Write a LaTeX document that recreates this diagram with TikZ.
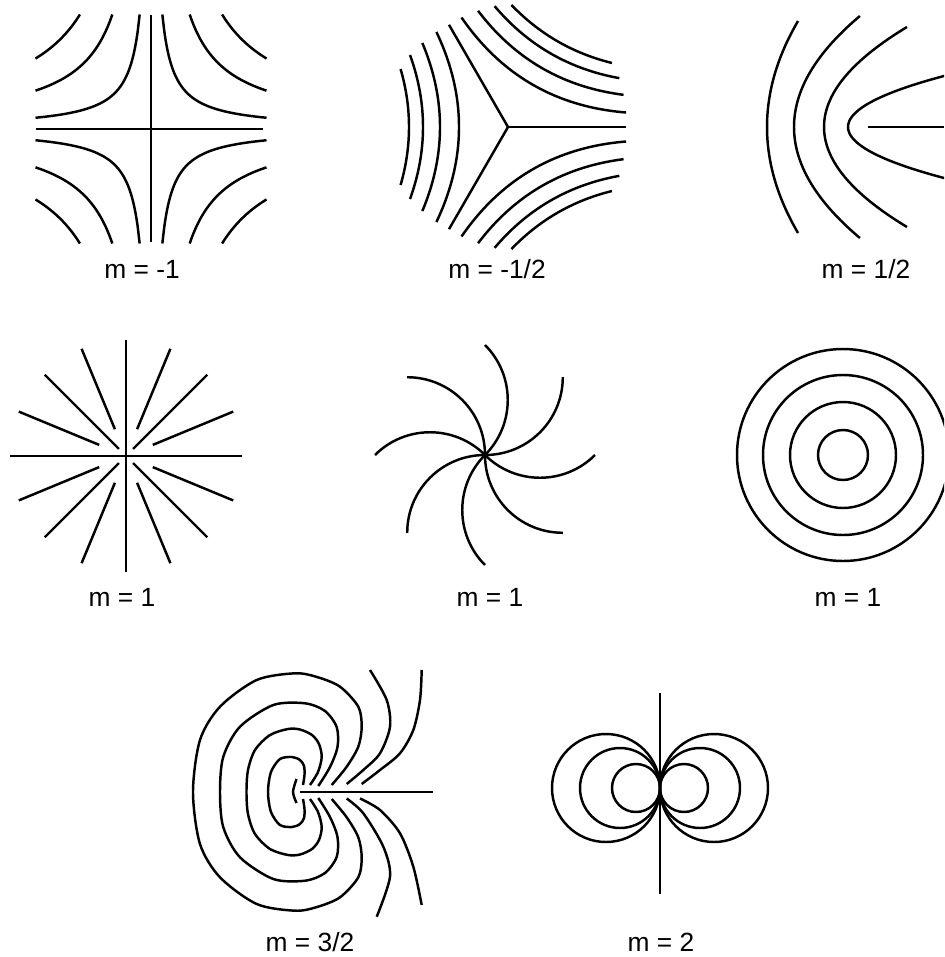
\documentclass[tikz,border=0pt]{standalone}
\usepackage{fontspec}
\setmainfont{Liberation Sans}
\begin{document}
\begin{tikzpicture}[x=0.02cm,y=-0.02cm,
  fl/.style={line width=1.4pt},
  lbl/.style={font=\fontsize{15}{18}\selectfont, anchor=base, inner sep=0pt, text=black}]
\path[use as bounding box] (0,0) rectangle (944,957);
\clip (0,0) rectangle (944,957);

% ---------- m = -1 (hyperbolas)
\draw[fl] (151,15) -- (151,242);
\draw[fl] (36,129) -- (263,129);
\foreach \c in {1300,4430,8140}{
  \pgfmathsetmacro\lo{\c/114.5}
  \foreach \sx/\sy in {1/1,1/-1,-1/1,-1/-1}
    \draw[fl, domain=\lo:115.5, samples=50, smooth, variable=\t]
      plot ({151+\sx*\t},{129+\sy*\c/\t});
}

% ---------- m = -1/2
\begin{scope}[shift={(508,127)}]
  \draw[fl] (0,0) -- (118,0);
  \draw[fl] (0,0) -- (120:118);
  \draw[fl] (0,0) -- (240:118);
  \foreach \r in {0,120,240}
    \foreach \a/\h in {99/58,85/72,68/84,49/95}
      \draw[fl, rotate=\r, domain=-\h:\h, samples=40, smooth, variable=\t]
        plot ({-(\a+0.0025*\t*\t)},{\t});
\end{scope}

% ---------- m = 1/2 (parabolas)
\draw[fl] (868,127) -- (944,127);
\foreach \v/\k/\h in {767/362/106, 794/187/111, 824/120.5/100, 848/27.1/56}
  \draw[fl, domain=-\h:\h, samples=50, smooth, variable=\t]
    plot ({\v+\t*\t/\k},{127+\t});

% ---------- m = 1 (source)
\begin{scope}[shift={(126,456)}]
  \foreach \a in {0,90,180,270} \draw[fl] (0,0) -- (\a:116);
  \foreach \a in {45,135,225,315} \draw[fl] (\a:10) -- (\a:115);
  \foreach \a in {22.5,67.5,112.5,157.5,202.5,247.5,292.5,337.5}
    \draw[fl] (\a:29) -- (\a:116);
\end{scope}

% ---------- m = 1 (spiral)
\begin{scope}[shift={(485,455)}]
  \foreach \a in {0,45,...,315}
    \draw[fl] (0,0) to[bend right=45] (\a:110);
\end{scope}

% ---------- m = 1 (circles)
\foreach \r in {25,53,80,106}
  \draw[fl] (843,455) circle (\r);

% ---------- m = 3/2
\begin{scope}[shift={(300,792)}, yscale=-1]
  \draw[fl] (0,0) -- (133,0);
  \draw[fl] plot[smooth] coordinates {(-3.5,13) (-7,0) (-3.5,-11)};
  \draw[fl] plot[smooth] coordinates {(3,7) (4.5,17) (4,26) (0,32) (-8,35) (-20,33) (-29,20) (-32,0) (-29,-20) (-20,-33) (-8,-35) (0,-32) (4,-26) (4.5,-17) (3,-7)};
  \draw[fl] plot[smooth] coordinates {(10,7) (18,20) (21.7,35) (19,48) (12,57) (0,62.5) (-12,63) (-30,57) (-45,42) (-52,22) (-53.5,0) (-52,-22) (-45,-42) (-30,-57) (-12,-63) (0,-62.5) (12,-57) (19,-48) (21.7,-35) (18,-20) (10,-7)};
  \draw[fl] plot[smooth] coordinates {(18.3,6) (30,25) (37.5,45) (36.7,65) (25,81) (5,88.7) (-26.7,87) (-60,65.3) (-76.7,35.3) (-80,0) (-76.7,-35.3) (-60,-65.3) (-26.7,-87) (5,-88.7) (25,-81) (36.7,-65) (37.5,-45) (30,-25) (18.3,-6)};
  \draw[fl] plot[smooth] coordinates {(31.7,7) (46.7,25.3) (58.3,45.3) (61.7,65.3) (58.3,85.3) (40,105.3) (17,115) (-5,118.7) (-43.3,112) (-80,85.3) (-100,52) (-107,0) (-100,-52) (-80,-85.3) (-43.3,-112) (-5,-118.7) (17,-115) (40,-105.3) (58.3,-85.3) (61.7,-65.3) (58.3,-45.3) (46.7,-25.3) (31.7,-7)};
  \draw[fl] plot[smooth] coordinates {(46.7,8) (63.3,22) (80,38.7) (90,65.3) (86.7,92) (70,122)};
  \draw[fl] plot[smooth] coordinates {(46.7,-6.5) (63.3,-21.3) (83.3,-54.7) (90,-84.7) (76.7,-124.7)};
  \draw[fl] plot[smooth] coordinates {(61.7,8) (80,22) (100,38.7) (113.3,62) (120,92) (121.7,122)};
  \draw[fl] plot[smooth] coordinates {(60,-6.5) (80,-18) (100,-41.3) (113.3,-74.7) (121.7,-113)};
\end{scope}

% ---------- m = 2 (doublet)
\draw[fl] (660,693) -- (660,894);
\foreach \r in {24,40,54}{
  \draw[fl] ({660+\r},788) circle (\r);
  \draw[fl] ({660-\r},788) circle (\r);
}

% ---------- labels
\node[lbl] (l1) at (142,278) {m = -1};
\node[lbl] (l2) at (497,278) {m = -1/2};
\node[lbl] (l3) at (866,278) {m = 1/2};
\node[lbl] (l4) at (122,606) {m = 1};
\node[lbl] (l5) at (490,606) {m = 1};
\node[lbl] (l6) at (848,606) {m = 1};
\node[lbl] (l7) at (310,951) {m = 3/2};
\node[lbl] (l8) at (661,951) {m = 2};
\end{tikzpicture}
\end{document}
